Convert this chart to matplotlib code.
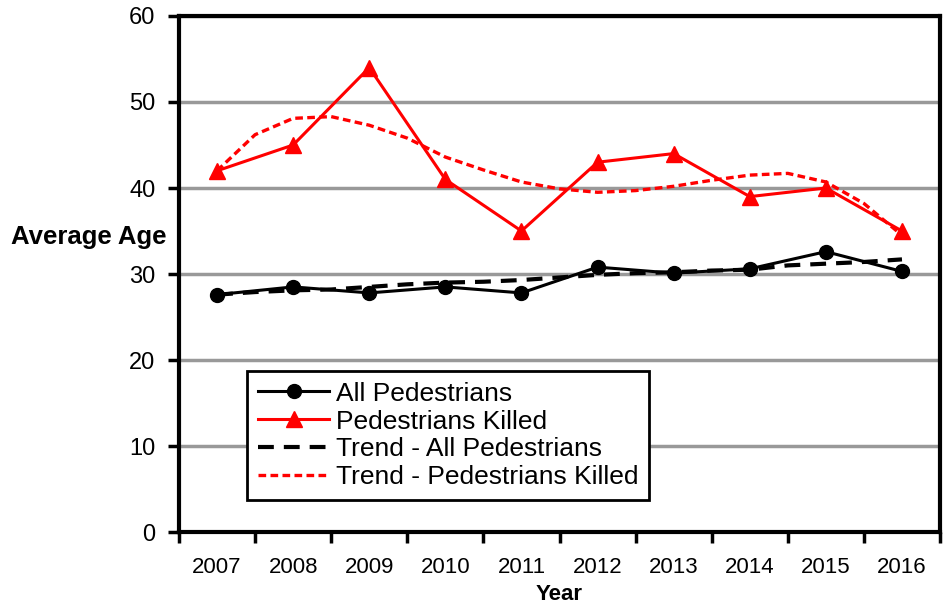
import numpy as np
import matplotlib
matplotlib.use("Agg")
import matplotlib.pyplot as plt

plt.rcParams['font.family'] = ['Liberation Sans', 'DejaVu Sans']

years = ['2007', '2008', '2009', '2010', '2011', '2012', '2013', '2014', '2015', '2016']
all_peds = [27.6, 28.5, 27.8, 28.5, 27.8, 30.8, 30.1, 30.6, 32.6, 30.3]
killed = [42, 45, 54, 41, 35, 43, 44, 39, 40, 35]

# trendlines every half year (2007, 2007.5, ..., 2016)
trend_all = [27.6, 27.9, 28.1, 28.2, 28.5, 28.8, 29.0, 29.1, 29.3, 29.6,
             29.9, 30.1, 30.2, 30.4, 30.5, 31.0, 31.2, 31.4, 31.7]
trend_killed = [42.0, 46.2, 48.1, 48.3, 47.3, 45.8, 43.6, 42.1, 40.7, 39.9,
                39.5, 39.7, 40.2, 40.9, 41.5, 41.7, 40.7, 38.2, 34.5]

x = np.arange(len(years))
xt = np.arange(len(trend_all)) / 2

fig = plt.figure(figsize=(9.44, 6.06), dpi=100)
ax = fig.add_axes([0.1896, 0.1221, 0.8062, 0.8515])

ax.plot(x, all_peds, color='black', lw=2.2, marker='o', ms=10, label='All Pedestrians', zorder=4)
ax.plot(x, killed, color='red', lw=2.2, marker='^', ms=12, label='Pedestrians Killed', zorder=4)
ax.plot(xt, trend_all, color='black', lw=3, ls=(0, (3.8, 2.4)), label='Trend - All Pedestrians', zorder=3)
ax.plot(xt, trend_killed, color='red', lw=2.4, ls=(0, (2.3, 1.3)), label='Trend - Pedestrians Killed', zorder=3)

ax.set_ylim(0, 60)
ax.set_yticks(range(0, 61, 10))
ax.set_xlim(-0.5, len(years) - 0.5)
ax.set_xticks(x)
ax.set_xticklabels(years)
ax.set_xticks(np.arange(-0.5, len(years), 1), minor=True)
ax.tick_params(axis='x', which='major', length=0, labelsize=16, pad=18)
ax.tick_params(axis='x', which='minor', length=8, width=2.5, direction='out')
ax.tick_params(axis='y', length=8, width=2.5, direction='out', labelsize=17, pad=9)

ax.yaxis.grid(True, color='#999999', lw=2.5)
ax.set_axisbelow(True)
for s in ax.spines.values():
    s.set_linewidth(3)
    s.set_color('black')

ax.set_xlabel('Year', fontsize=16, fontweight='bold', labelpad=4)
ax.set_ylabel('Average Age', fontsize=18.5, fontweight='bold', rotation=0,
              ha='center', va='center')
ax.yaxis.set_label_coords(-0.118, 0.572)

leg = ax.legend(loc='upper left', bbox_to_anchor=(0.09, 0.312), fontsize=19,
                handlelength=2.7, labelspacing=0.15, handletextpad=0.27,
                borderpad=0.4, fancybox=False, framealpha=1, edgecolor='black',
                borderaxespad=0)
leg.get_frame().set_linewidth(2)

fig.savefig('out.png', dpi=100)
